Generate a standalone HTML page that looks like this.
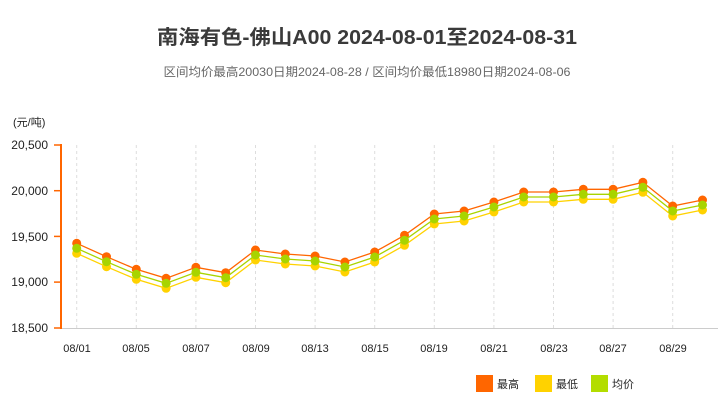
<!DOCTYPE html>
<html><head><meta charset="utf-8"><style>
body{margin:0;background:#fff;width:723px;height:401px;overflow:hidden}
svg{display:block;font-family:"Liberation Sans","Noto Sans CJK SC",sans-serif}
</style></head><body>
<svg width="723" height="401" viewBox="0 0 723 401" xmlns="http://www.w3.org/2000/svg">
<text x="367" y="44" text-anchor="middle" font-size="20" font-weight="bold" fill="#3a3a3a" textLength="420" lengthAdjust="spacingAndGlyphs">南海有色-佛山A00 2024-08-01至2024-08-31</text>
<text x="367" y="76" text-anchor="middle" font-size="12" fill="#666" textLength="407" lengthAdjust="spacingAndGlyphs">区间均价最高20030日期2024-08-28 / 区间均价最低18980日期2024-08-06</text>
<text x="13" y="126" font-size="11" fill="#222">(元/吨)</text>
<g stroke="#ddd" stroke-dasharray="3,3" stroke-width="1">
<line x1="76.7" y1="145" x2="76.7" y2="328"/><line x1="136.3" y1="145" x2="136.3" y2="328"/><line x1="195.9" y1="145" x2="195.9" y2="328"/><line x1="255.5" y1="145" x2="255.5" y2="328"/><line x1="315.1" y1="145" x2="315.1" y2="328"/><line x1="374.7" y1="145" x2="374.7" y2="328"/><line x1="434.3" y1="145" x2="434.3" y2="328"/><line x1="493.9" y1="145" x2="493.9" y2="328"/><line x1="553.5" y1="145" x2="553.5" y2="328"/><line x1="613.1" y1="145" x2="613.1" y2="328"/><line x1="672.7" y1="145" x2="672.7" y2="328"/>
</g>
<line x1="60" y1="328.5" x2="718" y2="328.5" stroke="#ccc"/>
<line x1="61" y1="144" x2="61" y2="329" stroke="#ff6600" stroke-width="2"/>
<g stroke="#ff6600" stroke-width="1.5">
<line x1="54" y1="145" x2="61" y2="145"/><line x1="54" y1="190.7" x2="61" y2="190.7"/><line x1="54" y1="236.4" x2="61" y2="236.4"/><line x1="54" y1="282.1" x2="61" y2="282.1"/><line x1="54" y1="328" x2="61" y2="328"/>
</g>
<g font-size="12" fill="#222" text-anchor="end">
<text x="48" y="149">20,500</text><text x="48" y="195">20,000</text><text x="48" y="241">19,500</text><text x="48" y="286">19,000</text><text x="48" y="332">18,500</text>
</g>
<g font-size="11" fill="#222" text-anchor="middle">
<text x="77" y="352">08/01</text><text x="136" y="352">08/05</text><text x="196" y="352">08/07</text><text x="256" y="352">08/09</text><text x="315" y="352">08/13</text><text x="375" y="352">08/15</text><text x="434" y="352">08/19</text><text x="494" y="352">08/21</text><text x="554" y="352">08/23</text><text x="613" y="352">08/27</text><text x="673" y="352">08/29</text>
</g>
<g id="series"></g>
<rect x="476" y="375" width="17" height="17" fill="#ff6600"/><text x="497" y="388" font-size="11" fill="#222">最高</text>
<rect x="535" y="375" width="17" height="17" fill="#ffd200"/><text x="556" y="388" font-size="11" fill="#222">最低</text>
<rect x="591" y="375" width="17" height="17" fill="#b3dd00"/><text x="612" y="388" font-size="11" fill="#222">均价</text>
<script>
var hi=[243.3,256.7,269.3,278.3,267.3,272.7,250,254,256,262,252,235.3,214,211,202,192,192,189.3,189.3,182.3,206,200];
var s=document.getElementById('series'),ns='http://www.w3.org/2000/svg';
function draw(off,col){var pts=hi.map(function(y,i){return (76.7+i*29.8).toFixed(1)+','+(y+off).toFixed(1)});
var p=document.createElementNS(ns,'polyline');p.setAttribute('points',pts.join(' '));p.setAttribute('fill','none');p.setAttribute('stroke',col);p.setAttribute('stroke-width','1.3');s.appendChild(p);
hi.forEach(function(y,i){var c=document.createElementNS(ns,'circle');c.setAttribute('cx',76.7+i*29.8);c.setAttribute('cy',y+off);c.setAttribute('r','4.5');c.setAttribute('fill',col);s.appendChild(c);});}
draw(10,'#ffd200');draw(0,'#ff6600');draw(5,'#a8d400');
</script>
</svg>
</body></html>
